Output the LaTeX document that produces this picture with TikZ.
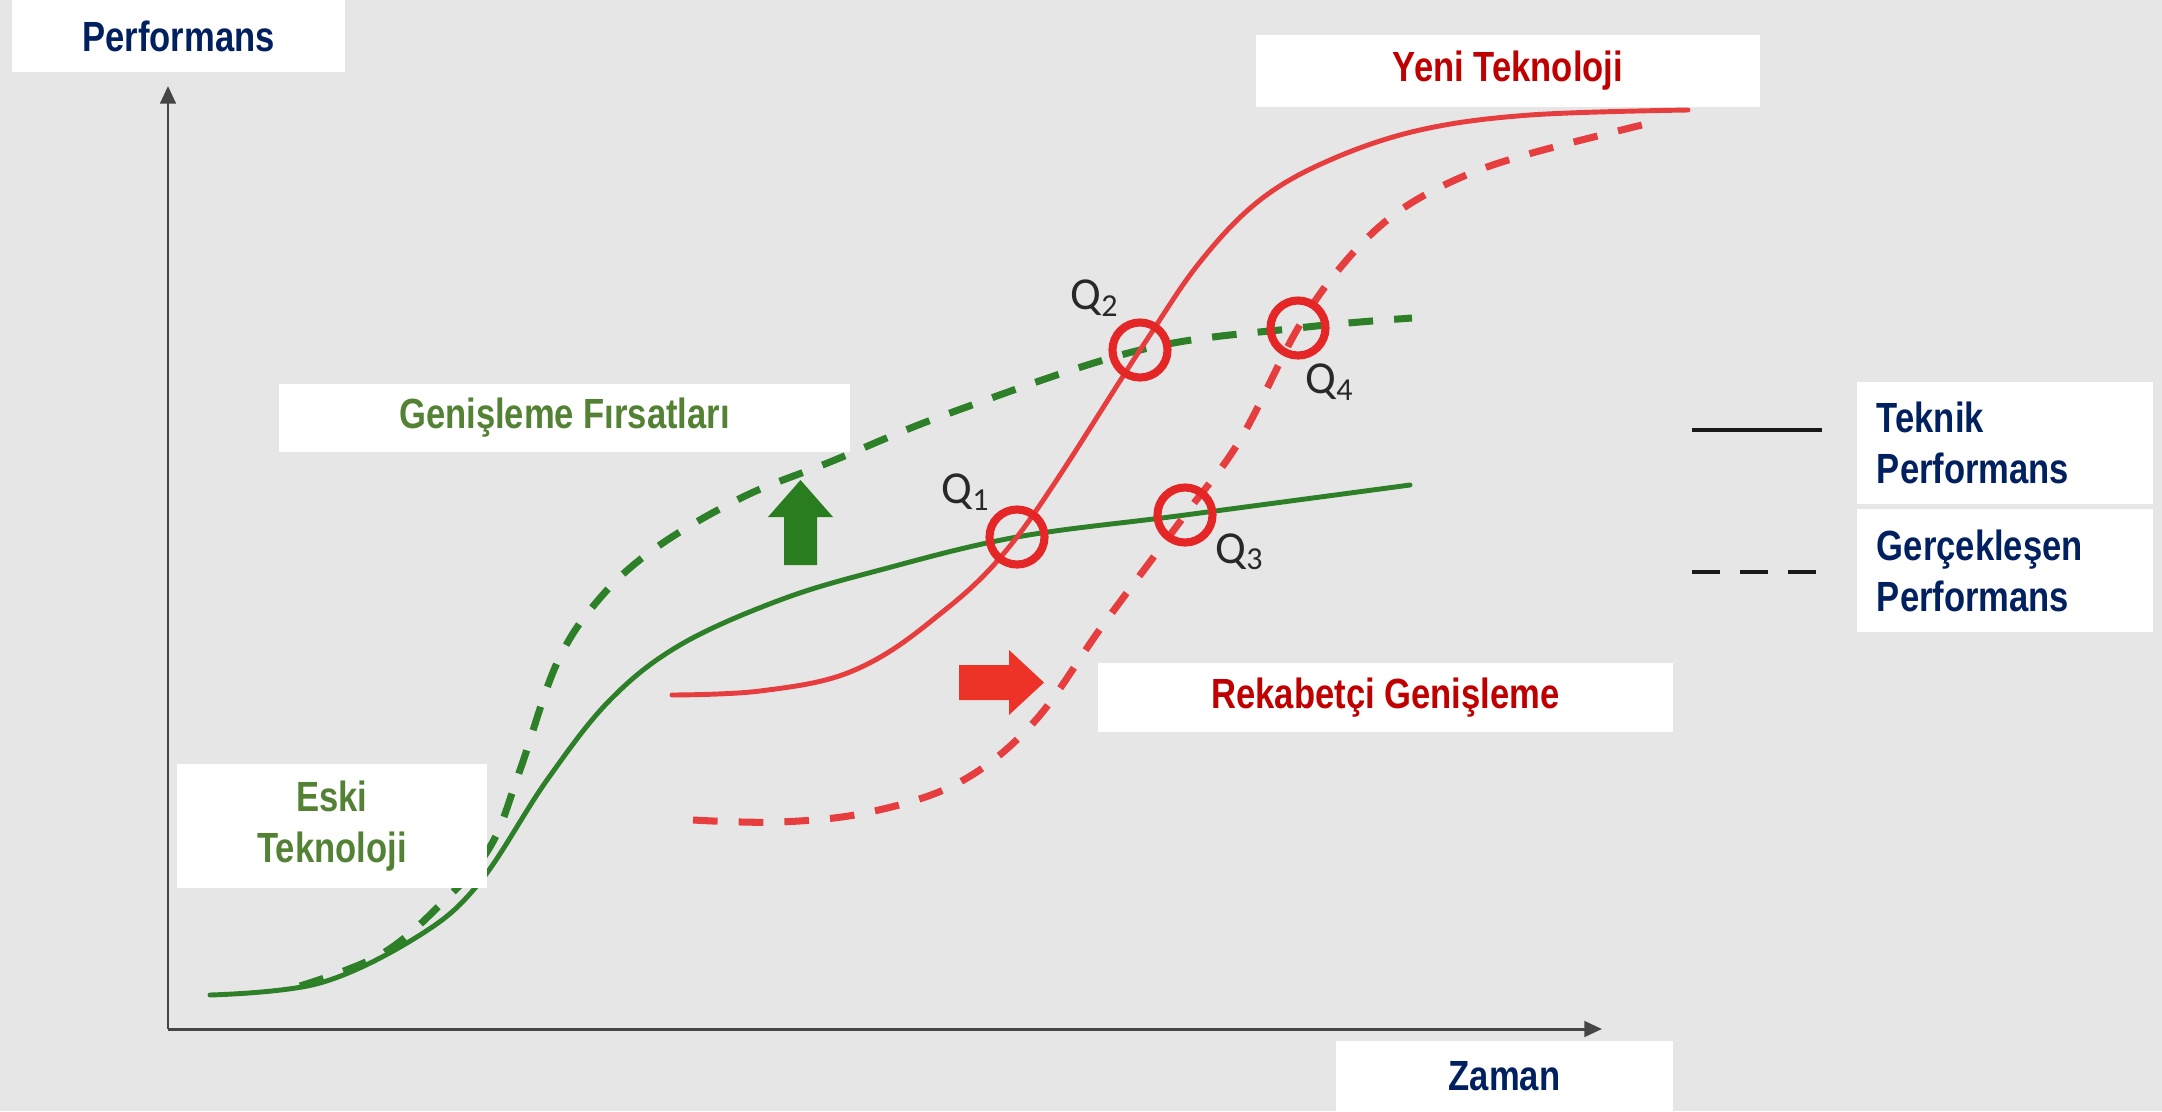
\documentclass[tikz,border=0pt]{standalone}
\usepackage{fontspec}
\setmainfont{Liberation Sans}[FakeStretch=0.82]
\newfontfamily\qfont{Carlito}
\usepackage{tikz}
\usetikzlibrary{arrows.meta, positioning}
\definecolor{navytext}{RGB}{0, 32, 96}
\definecolor{redtext}{RGB}{192, 0, 0}
\definecolor{greentext}{RGB}{84, 130, 53}
\definecolor{curvegreen}{RGB}{45, 128, 40}
\definecolor{curvered}{RGB}{230, 62, 62}
\definecolor{ringred}{RGB}{228, 38, 38}
\definecolor{arrowred}{RGB}{237, 50, 40}
\definecolor{arrowgreen}{RGB}{42, 125, 30}
\definecolor{bggray}{RGB}{230, 230, 230}
\definecolor{axisgray}{RGB}{70, 70, 70}
\definecolor{qgray}{RGB}{40, 40, 40}

\begin{document}
\begin{tikzpicture}[x=0.01cm, y=-0.01cm,
  labelbox/.style={fill=white, inner sep=0pt, align=center, font=\fontsize{12}{14.5}\selectfont\bfseries},
  legendbox/.style={labelbox, align=left, minimum width=2.96cm, text width=2.56cm, minimum height=1.22cm, text=navytext},
  qring/.style={circle, draw=ringred, line width=2.3pt, minimum size=0.55cm, inner sep=0pt},
  qlabel/.style={font=\qfont\fontsize{13}{13}\selectfont, text=qgray, inner sep=0pt},
  axis/.style={draw=axisgray, line width=0.85pt, -{Triangle[length=5pt, width=4.4pt]}},
  techline/.style={line width=1.4pt, line cap=round},
  realline/.style={line width=2pt, dash pattern=on 7pt off 6pt}]
\fill[bggray] (0,0) rectangle (2162,1111);
\useasboundingbox (0,0) rectangle (2162,1111);

% axes
\coordinate (origin) at (168,1029);
\coordinate (ytop) at (168,86);
\coordinate (xend) at (1602,1029);
\draw[axis] (origin) -- (ytop);
\draw[axis] (origin) -- (xend);

% old technology
\draw[techline, curvegreen] plot[smooth, tension=0.6] coordinates {(210,995) (320,983) (420,935) (480,882) (547,780) (610,700) (680,645) (780,600) (880,570) (1017,537) (1185,515) (1410,485)};
\draw[realline, curvegreen] plot[smooth, tension=0.6] coordinates {(300,986) (380,955) (440,905) (490,847) (520,770) (557,663) (600,598) (657,547) (743,497) (830,462) (950,413) (1140,350) (1298,328) (1412,318)};

% new technology
\draw[techline, curvered] plot[smooth, tension=0.6] coordinates {(672,695) (760,691) (850,672) (930,622) (1017,537) (1140,350) (1200,262) (1260,200) (1330,160) (1420,130) (1530,115) (1688,110)};
\draw[realline, curvered] plot[smooth, tension=0.6] coordinates {(693,820) (780,822) (870,812) (960,782) (1034,722) (1103,625) (1185,515) (1240,440) (1298,328) (1345,262) (1395,214) (1455,180) (1525,155) (1650,123)};

% intersection points
\node[qring] (q1) at (1017,537) {};
\node[qring] (q2) at (1140,350) {};
\node[qring] (q3) at (1185,515) {};
\node[qring] (q4) at (1298,328) {};
\node[qlabel] (q1label) at (966,492) {Q\textsubscript{1}};
\node[qlabel] (q2label) at (1095,298) {Q\textsubscript{2}};
\node[qlabel] (q3label) at (1240,552) {Q\textsubscript{3}};
\node[qlabel] (q4label) at (1330,382) {Q\textsubscript{4}};

% block arrows
\fill[arrowgreen] (784,565) -- (817,565) -- (817,517) -- (833,517) -- (800.5,480) -- (768,517) -- (784,517) -- cycle;
\fill[arrowred] (959,665) -- (1009,665) -- (1009,650) -- (1044,682.5) -- (1009,715) -- (1009,700) -- (959,700) -- cycle;

% labels
\node[labelbox, text=navytext, minimum width=3.33cm, minimum height=0.72cm] (performans) at (178.5,36) {Performans};
\node[labelbox, text=navytext, minimum width=3.37cm, minimum height=0.70cm] (zaman) at (1504.5,1076) {Zaman};
\node[labelbox, text=redtext, minimum width=5.04cm, minimum height=0.72cm] (yeni) at (1508,71) {Yeni Teknoloji};
\node[labelbox, text=redtext, minimum width=5.75cm, minimum height=0.69cm] (rekabet) at (1385.5,697.5) {Rekabetçi Genişleme};
\node[labelbox, text=greentext, minimum width=5.71cm, minimum height=0.68cm] (firsat) at (564.5,418) {Genişleme Fırsatları};
\node[labelbox, text=greentext, minimum width=3.10cm, minimum height=1.23cm] (eski) at (332,826) {Eski\\Teknoloji};

% legend
\node[legendbox] (teknik) at (2005,443) {Teknik\\Performans};
\node[legendbox] (gercek) at (2005,570.5) {Gerçekleşen\\Performans};
\draw[line width=1.4pt, black!90] (1692,430) -- (1822,430);
\draw[line width=1.4pt, black!90, dash pattern=on 8pt off 5.6pt] (1692,572) -- (1818,572);
\end{tikzpicture}
\end{document}
